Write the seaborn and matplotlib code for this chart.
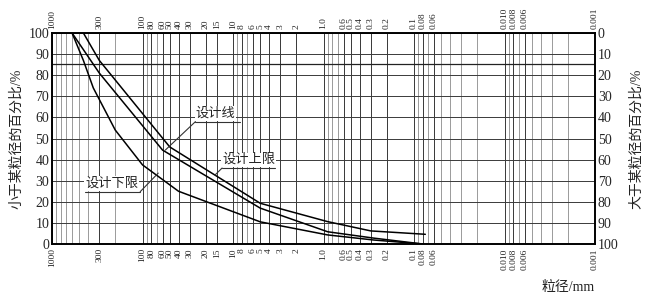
import matplotlib
matplotlib.use("Agg")
import matplotlib.pyplot as plt
import seaborn as sns
import numpy as np
import pandas as pd

# ---- data ----
upper_d = [450, 300, 50, 5, 0.9, 0.3, 0.075]
upper_p = [100, 87, 46, 19.3, 10.6, 6.2, 4.6]

design_d = [600, 300, 60, 5, 0.9, 0.28, 0.08]
design_p = [100, 81, 44.5, 17, 5.8, 2.8, 0]

lower_d = [600, 450, 350, 200, 100, 40, 5, 0.9, 0.28, 0.08]
lower_p = [100, 87, 74, 54, 37.5, 25, 10.5, 4.3, 1.9, 0]

tick_vals = [1000, 300, 100, 80, 60, 50, 40, 30, 20, 15, 10, 8, 6, 5, 4, 3, 2,
             1.0, 0.6, 0.5, 0.4, 0.3, 0.2, 0.1, 0.08, 0.06, 0.010, 0.008, 0.006, 0.001]
tick_labels = ["1000", "300", "100", "80", "60", "50", "40", "30", "20", "15", "10",
               "8", "6", "5", "4", "3", "2", "1.0", "0.6", "0.5", "0.4", "0.3", "0.2",
               "0.1", "0.08", "0.06", "0.010", "0.008", "0.006", "0.001"]
left_ticks = list(range(0, 101, 10))

# annotation: (label, text x, underline y, underline x-end, leader point x, leader point y, leader from right end)
ann_design = ("设计线", 26, 58, 8.4, 56, 44.5, False)
ann_upper = ("设计上限", 13.2, 36, 3.4, 15.8, 32.7, False)
ann_lower = ("设计下限", 430, 24.8, 106, 67, 33.6, True)

df = pd.concat([
    pd.DataFrame({"d": upper_d, "p": upper_p, "curve": "设计上限"}),
    pd.DataFrame({"d": design_d, "p": design_p, "curve": "设计线"}),
    pd.DataFrame({"d": lower_d, "p": lower_p, "curve": "设计下限"}),
])

sns.set_theme(style="white")
plt.rcParams["font.family"] = ["Liberation Serif", "Noto Sans CJK SC"]
plt.rcParams["axes.unicode_minus"] = False

fig = plt.figure(figsize=(6.53, 2.97), dpi=100)
ax = fig.add_axes([52 / 653, 1 - 244 / 297, (595 - 52) / 653, (244 - 33) / 297])

ax.set_xscale("log")
ax.set_xlim(1000, 0.001)
ax.set_ylim(0, 100)

# grid
minor = [m * 10.0 ** k for k in range(-3, 3) for m in range(1, 10)]
for v in minor:
    ax.axvline(v, color="#8a8a8a", lw=0.6, zorder=1)
for v in tick_vals:
    ax.axvline(v, color="#3a3a3a", lw=0.7, zorder=1)
for v in left_ticks:
    ax.axhline(v, color="#3a3a3a", lw=0.7, zorder=1)
ax.axhline(85.5, color="#222222", lw=0.9, zorder=1)

sns.lineplot(data=df, x="d", y="p", units="curve", estimator=None, sort=False,
             color="black", lw=1.1, ax=ax, legend=False, zorder=3)

ax.set_xticks(tick_vals)
ax.set_xticklabels(tick_labels, rotation=90, fontsize=6.8)
ax.xaxis.set_minor_locator(matplotlib.ticker.NullLocator())
ax.tick_params(axis="x", which="both", length=0, pad=3, top=False, labeltop=True, bottom=False, labelbottom=True)
ax.set_yticks(left_ticks)
ax.set_yticklabels([str(v) for v in left_ticks], fontsize=10)
ax.tick_params(axis="y", length=0, pad=2)
ax.set_xlabel("")
ax.set_ylabel("小于某粒径的百分比/%", fontsize=10, labelpad=4, color="#222222")

ax2 = ax.twinx()
ax2.set_ylim(100, 0)
ax2.set_yticks(left_ticks)
ax2.set_yticklabels([str(v) for v in left_ticks], fontsize=10)
ax2.tick_params(axis="y", length=0, pad=2)
ax2.set_ylabel("大于某粒径的百分比/%", fontsize=10, labelpad=8, color="#222222", rotation=90)

for a in (ax, ax2):
    for s in a.spines.values():
        s.set_color("black")
        s.set_linewidth(1.2)

fig.text(595 / 653, 1 - 287 / 297, "粒径/mm", ha="right", va="center", fontsize=10, color="#222222")

for lbl, tx, ty, ux, lx, ly, from_right in (ann_design, ann_upper, ann_lower):
    ax.text(tx, ty + 0.9, lbl, ha="left", va="bottom", fontsize=9.5, zorder=5, color="#222222",
            bbox=dict(facecolor="white", edgecolor="none", pad=0.6))
    ax.plot([tx, ux], [ty, ty], color="#333333", lw=0.8, zorder=6)
    sx = ux if from_right else tx
    ax.plot([sx, lx], [ty, ly], color="#333333", lw=0.8, zorder=6)

fig.savefig("out.png", dpi=100)
